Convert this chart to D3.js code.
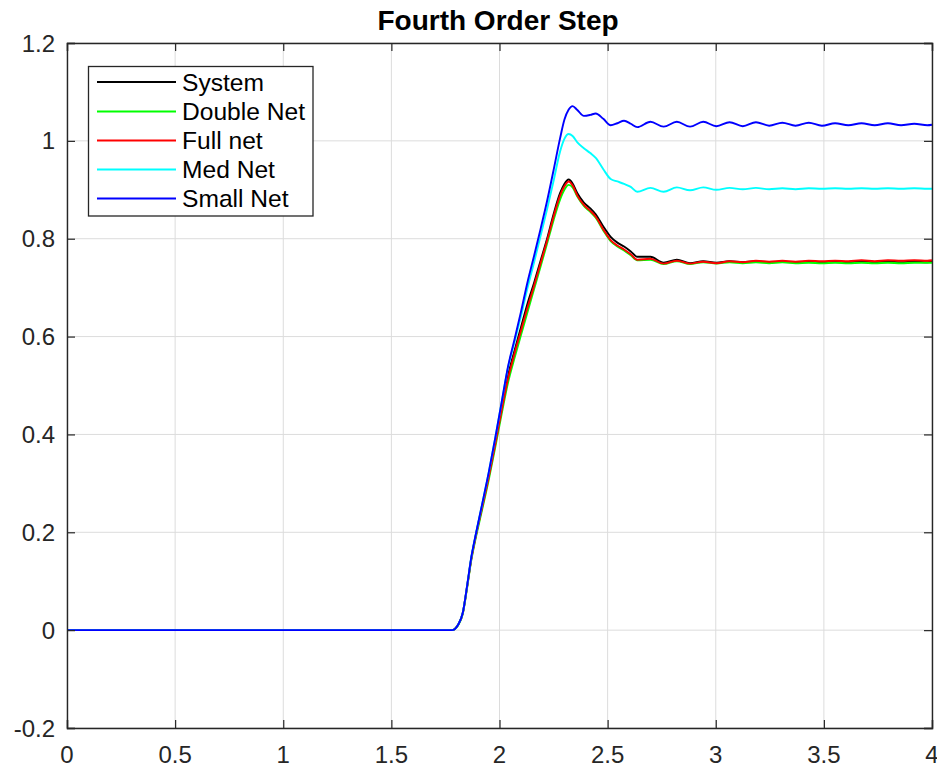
<!DOCTYPE html>
<html>
<head>
<meta charset="utf-8">
<script src="https://cdn.jsdelivr.net/npm/d3@7"></script>
<style>
  html, body { margin: 0; padding: 0; background: #fff; }
  svg { display: block; }
  text { font-family: "Liberation Sans", Arial, Helvetica, sans-serif; }
</style>
</head>
<body>
<svg id="chart" width="937" height="768"></svg>
<script>
const title = "Fourth Order Step";
const xTicks = [0, 0.5, 1, 1.5, 2, 2.5, 3, 3.5, 4];
const xTickLabels = ["0", "0.5", "1", "1.5", "2", "2.5", "3", "3.5", "4"];
const yTicks = [-0.2, 0, 0.2, 0.4, 0.6, 0.8, 1, 1.2];
const yTickLabels = ["-0.2", "0", "0.2", "0.4", "0.6", "0.8", "1", "1.2"];

const time = [0, 1.78, 1.795, 1.81, 1.83, 1.85, 1.87, 1.89, 1.92, 1.95,
  1.98, 2.01, 2.04, 2.07, 2.10, 2.13, 2.16, 2.19, 2.22, 2.25,
  2.28, 2.30, 2.32, 2.338, 2.36, 2.39, 2.42, 2.445, 2.48, 2.514,
  2.545, 2.576, 2.607, 2.637, 2.698, 2.759, 2.820, 2.881, 2.942, 3.003,
  3.064, 3.125, 3.186, 3.247, 3.308, 3.369, 3.430, 3.491, 3.552, 3.613,
  3.674, 3.735, 3.796, 3.857, 3.918, 3.979, 4.0];

const systemVals = [0, 0, 0.003, 0.012, 0.035, 0.089, 0.148, 0.193, 0.254, 0.316,
  0.384, 0.455, 0.522, 0.572, 0.620, 0.668, 0.710, 0.755, 0.800, 0.850,
  0.893, 0.912, 0.921, 0.913, 0.893, 0.874, 0.862, 0.850, 0.825, 0.804,
  0.792, 0.784, 0.774, 0.763, 0.763, 0.751, 0.757, 0.750, 0.754, 0.751,
  0.754, 0.752, 0.754, 0.752, 0.753, 0.752, 0.753, 0.752, 0.753, 0.752,
  0.753, 0.752, 0.753, 0.752, 0.753, 0.752, 0.753];

const doubleNetVals = [0, 0, 0.003, 0.011, 0.033, 0.086, 0.144, 0.188, 0.247, 0.307,
  0.373, 0.442, 0.507, 0.557, 0.604, 0.651, 0.697, 0.743, 0.790, 0.838,
  0.880, 0.900, 0.910, 0.905, 0.886, 0.867, 0.855, 0.843, 0.817, 0.795,
  0.784, 0.776, 0.766, 0.756, 0.757, 0.748, 0.754, 0.748, 0.752, 0.749,
  0.752, 0.750, 0.752, 0.750, 0.752, 0.750, 0.751, 0.750, 0.751, 0.750,
  0.751, 0.750, 0.751, 0.750, 0.751, 0.751, 0.751];

const fullNetVals = [0, 0, 0.003, 0.012, 0.034, 0.088, 0.146, 0.191, 0.251, 0.312,
  0.379, 0.449, 0.515, 0.566, 0.613, 0.660, 0.704, 0.750, 0.796, 0.845,
  0.888, 0.907, 0.917, 0.909, 0.888, 0.869, 0.857, 0.845, 0.819, 0.797,
  0.786, 0.778, 0.768, 0.757, 0.759, 0.749, 0.755, 0.749, 0.753, 0.750,
  0.754, 0.752, 0.755, 0.753, 0.755, 0.753, 0.755, 0.754, 0.755, 0.754,
  0.756, 0.754, 0.756, 0.755, 0.756, 0.755, 0.756];

const medNetVals = [0, 0, 0.003, 0.012, 0.035, 0.090, 0.150, 0.195, 0.258, 0.322,
  0.392, 0.466, 0.538, 0.590, 0.643, 0.700, 0.752, 0.806, 0.860, 0.918,
  0.978, 1.004, 1.014, 1.010, 0.997, 0.985, 0.975, 0.965, 0.942, 0.922,
  0.917, 0.912, 0.906, 0.896, 0.904, 0.896, 0.905, 0.899, 0.905, 0.900,
  0.904, 0.901, 0.904, 0.901, 0.903, 0.901, 0.903, 0.902, 0.903, 0.902,
  0.903, 0.902, 0.903, 0.902, 0.903, 0.902, 0.902];

const smallNetVals = [0, 0, 0.003, 0.012, 0.035, 0.090, 0.150, 0.195, 0.258, 0.322,
  0.392, 0.466, 0.540, 0.595, 0.652, 0.712, 0.765, 0.820, 0.877, 0.940,
  1.005, 1.043, 1.064, 1.071, 1.063, 1.051, 1.053, 1.056, 1.045, 1.032,
  1.036, 1.041, 1.035, 1.028, 1.039, 1.029, 1.039, 1.029, 1.039, 1.030,
  1.038, 1.030, 1.038, 1.031, 1.037, 1.031, 1.037, 1.031, 1.036, 1.032,
  1.036, 1.032, 1.036, 1.032, 1.035, 1.032, 1.033];

const seriesNames = ["System", "Double Net", "Full net", "Med Net", "Small Net"];
const seriesColors = ["#000000", "#00ff00", "#ff0000", "#00ffff", "#0000ff"];
const seriesValues = [systemVals, doubleNetVals, fullNetVals, medNetVals, smallNetVals];

const svg = d3.select("#chart");
const plotLeft = 67, plotRight = 932, plotTop = 43, plotBottom = 728;

const x = d3.scaleLinear().domain([0, 4]).range([plotLeft, plotRight]);
const y = d3.scaleLinear().domain([-0.2, 1.2]).range([plotBottom, plotTop]);

// grid
const grid = svg.append("g");
grid.selectAll("line.gx").data(xTicks).enter().append("line")
  .attr("x1", d => x(d)).attr("x2", d => x(d))
  .attr("y1", plotTop).attr("y2", plotBottom)
  .attr("stroke", "#dcdcdc").attr("stroke-width", 1);
grid.selectAll("line.gy").data(yTicks).enter().append("line")
  .attr("y1", d => y(d)).attr("y2", d => y(d))
  .attr("x1", plotLeft).attr("x2", plotRight)
  .attr("stroke", "#dcdcdc").attr("stroke-width", 1);

// lines
const line = d3.line()
  .x(d => x(d[0]))
  .y(d => y(d[1]))
  .curve(d3.curveMonotoneX);

const plot = svg.append("g");
seriesValues.forEach((vals, i) => {
  const pts = time.map((t, k) => [t, vals[k]]);
  plot.append("path")
    .attr("d", line(pts))
    .attr("fill", "none")
    .attr("stroke", seriesColors[i])
    .attr("stroke-width", 1.9)
    .attr("stroke-linejoin", "round");
});

// axes (ticks inside, mirrored)
const tickLen = 8;
const axisColor = "#262626";
const xAxisB = d3.axisBottom(x).tickValues(xTicks).tickSize(-tickLen).tickFormat(() => "");
const xAxisT = d3.axisTop(x).tickValues(xTicks).tickSize(-tickLen).tickFormat(() => "");
const yAxisL = d3.axisLeft(y).tickValues(yTicks).tickSize(-tickLen).tickFormat(() => "");
const yAxisR = d3.axisRight(y).tickValues(yTicks).tickSize(-tickLen).tickFormat(() => "");

function styleAxis(g) {
  g.selectAll("path").attr("stroke", axisColor).attr("stroke-width", 1.4);
  g.selectAll("line").attr("stroke", axisColor).attr("stroke-width", 1.2);
}
svg.append("g").attr("transform", `translate(0,${plotBottom})`).call(xAxisB).call(styleAxis);
svg.append("g").attr("transform", `translate(0,${plotTop})`).call(xAxisT).call(styleAxis);
svg.append("g").attr("transform", `translate(${plotLeft},0)`).call(yAxisL).call(styleAxis);
svg.append("g").attr("transform", `translate(${plotRight},0)`).call(yAxisR).call(styleAxis);

// tick labels
svg.append("g").selectAll("text").data(xTicks).enter().append("text")
  .attr("x", d => x(d)).attr("y", 763)
  .attr("text-anchor", "middle")
  .attr("font-size", 24)
  .attr("fill", "#262626")
  .text((d, i) => xTickLabels[i]);

svg.append("g").selectAll("text").data(yTicks).enter().append("text")
  .attr("x", 55).attr("y", d => y(d) + 8.5)
  .attr("text-anchor", "end")
  .attr("font-size", 24)
  .attr("fill", "#262626")
  .text((d, i) => yTickLabels[i]);

// title
svg.append("text")
  .attr("x", 498).attr("y", 30)
  .attr("text-anchor", "middle")
  .attr("font-size", 28)
  .attr("font-weight", "bold")
  .attr("fill", "#000")
  .text(title);

// legend
const lg = svg.append("g");
lg.append("rect")
  .attr("x", 88.5).attr("y", 66.5).attr("width", 224.5).attr("height", 149.5)
  .attr("fill", "#fff").attr("stroke", axisColor).attr("stroke-width", 1.3);
const rowY = [82, 111.5, 140.5, 169.5, 198.5];
seriesNames.forEach((name, i) => {
  lg.append("line")
    .attr("x1", 97).attr("x2", 176)
    .attr("y1", rowY[i]).attr("y2", rowY[i])
    .attr("stroke", seriesColors[i]).attr("stroke-width", 1.9);
  lg.append("text")
    .attr("x", 182).attr("y", rowY[i] + 8.7)
    .attr("font-size", 24.6)
    .attr("fill", "#000")
    .text(name);
});
</script>
</body>
</html>
